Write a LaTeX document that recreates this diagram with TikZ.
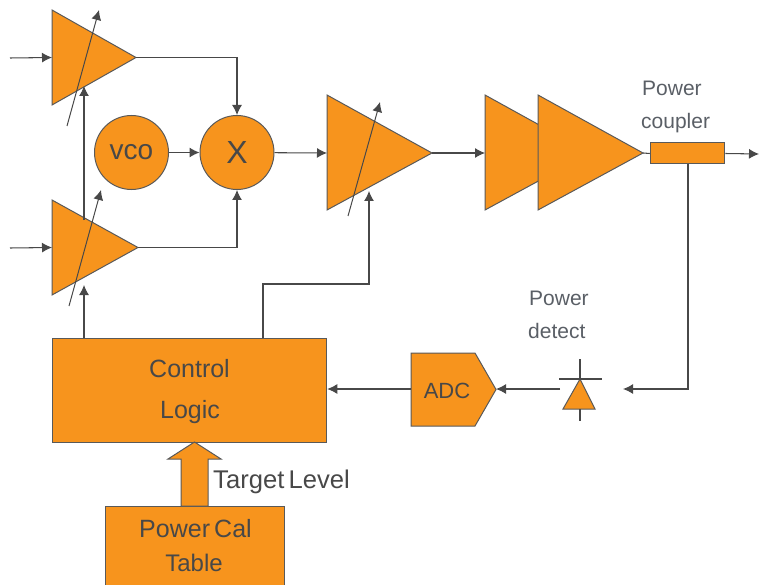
\documentclass[tikz,border=0pt]{standalone}
\usepackage{fontspec}
\setmainfont{Liberation Sans}
\usetikzlibrary{arrows.meta}
\definecolor{org}{HTML}{F7941D}
\definecolor{edgec}{HTML}{595959}
\definecolor{linec}{HTML}{484848}
\definecolor{lab}{HTML}{5A5F66}
\tikzset{
 x=1pt,y=-1pt,
 shapeb/.style={draw=edgec,fill=org,line width=1pt,line join=miter},
 boxb/.style={shapeb,rectangle,inner sep=0pt,align=center,text=linec},
 circb/.style={shapeb,circle,inner sep=0pt,minimum size=74pt,text=linec},
 conn/.style={draw=linec,line width=1.05pt,-{Latex[length=10pt,width=10pt]}},
 plain/.style={draw=linec,line width=1.05pt},
 tune/.style={draw=linec,line width=1pt,-{Latex[length=10pt,width=10pt]}},
 lbl/.style={text=lab,font=\fontsize{21}{21}\selectfont,inner sep=0pt,anchor=base west},
 big/.style={text=linec,font=\fontsize{25}{25}\selectfont,anchor=base},
}
\begin{document}
\begin{tikzpicture}
\useasboundingbox (0,0) rectangle (759,585);
% coordinates
\coordinate (in1) at (10,58);
\coordinate (in2) at (10,248);
\coordinate (a1w) at (52,57.5);
\coordinate (a1e) at (136,57.5);
\coordinate (a2w) at (52,247.5);
\coordinate (a2e) at (138,247.5);
\coordinate (a3w) at (327,153);
\coordinate (a3e) at (432,153);
\coordinate (a4w) at (485,153);
\coordinate (a5e) at (643,153);
\coordinate (outp) at (759,154);
\coordinate (detin) at (623,389);
\coordinate (detout) at (560,389);
\coordinate (adce) at (496,389);
\coordinate (t1a) at (84,220);
\coordinate (t1b) at (84,86);
\coordinate (t2b) at (84,285);
\coordinate (t3b) at (369,191);
% amplifier shapes
\draw[shapeb] (52,10) -- (136,57.5) -- (52,105) -- cycle;
\draw[shapeb] (52,200) -- (138,247.5) -- (52,295) -- cycle;
\draw[shapeb] (327,95) -- (432,153) -- (327,210) -- cycle;
\draw[shapeb] (485,95) -- (590,153) -- (485,210) -- cycle;
\draw[shapeb] (538,95) -- (643,153) -- (538,210) -- cycle;
% circles
\node[circb] (vco) at (131.5,152.5) {\raisebox{-1.5pt}{\fontsize{28}{28}\selectfont vco}};
\node[circb] (mix) at (237,152.5) {\fontsize{32}{32}\selectfont X};
% boxes
\node[boxb,minimum width=74.5pt,minimum height=21pt] (cpl) at (687.5,153.5) {};
\node[boxb,minimum width=274.5pt,minimum height=104pt] (ctl) at (189.5,390) {};
\node[boxb,minimum width=179.5pt,minimum height=79pt] (cal) at (195,545.5) {};
\node[big] (ctlt1) at (189.5,377) {Control};
\node[big] (ctlt2) at (190,418) {Logic};
\node[big] (calt1) at (195.5,537) {Power\,Cal};
\node[big,font=\fontsize{24}{24}\selectfont] (calt2) at (194,571) {Table};
% ADC
\draw[shapeb] (411,353) -- (475,353) -- (496,389.5) -- (475,426) -- (411,426) -- cycle;
\node[text=linec,font=\fontsize{22}{22}\selectfont,anchor=base] (adct) at (447,398) {ADC};
\coordinate (adcw) at (411,389);
% fat arrow
\draw[shapeb] (181,506) -- (181,459) -- (168,459) -- (194.5,442) -- (221,459) -- (208,459) -- (208,506) -- cycle;
\node[big,font=\fontsize{25.6}{25.6}\selectfont,anchor=base west,inner sep=0pt] (tl) at (213,488) {Target\,Level};
% diode
\draw[shapeb] (580,379) -- (595,409) -- (563,409) -- cycle;
\draw[plain] (559,379) -- (602,379);
\draw[plain] (580,359) -- (580,379);
\draw[plain] (580,409) -- (580,421);
% tuning arrows
\draw[tune] (67,126) -- (99,10);
\draw[tune] (69,306) -- (101,190);
\draw[tune] (348,216) -- (380,102);
% connectors
\draw[conn] (in1) -- (a1w);
\draw[conn] (in2) -- (a2w);
\draw[conn] (a1e) -| (mix.north);
\draw[conn] (a2e) -| (mix.south);
\draw[conn] (vco) -- (mix);
\draw[conn] (mix) -- (a3w);
\draw[conn] (a3e) -- (a4w);
\draw[plain] (a5e) -- (cpl.west);
\draw[conn] (cpl.east) -- (outp);
\draw[conn] (t1a) -- (t1b);
\draw[conn] (84,338) -- (t2b);
\draw[conn] (263,338) -- (263,284) -| (t3b);
\draw[conn] (688,164) |- (detin);
\draw[conn] (detout) -- (adce);
\draw[conn] (adcw) -- (ctl.east |- adcw);
% labels
\node[lbl] (l1) at (642,96) {Power};
\node[lbl] (l2) at (641,129) {coupler};
\node[lbl] (l3) at (529,305) {Power};
\node[lbl] (l4) at (528,338) {detect};
\end{tikzpicture}
\end{document}
